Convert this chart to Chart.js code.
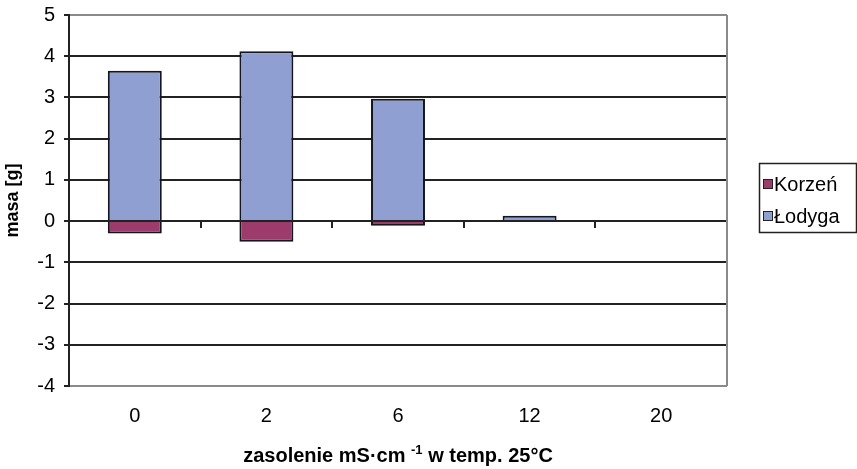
<!DOCTYPE html>
<html>
<head>
<meta charset="utf-8">
<script src="https://cdn.jsdelivr.net/npm/chart.js@4.4.1/dist/chart.umd.min.js"></script>
<style>
  body { margin: 0; background: #fff; }
  canvas { display: block; }
</style>
</head>
<body>
<canvas id="graph1" width="857" height="469"></canvas>
<script>
  // salinity categories (mS/cm at 25°C)
  const categories = ['0', '2', '6', '12', '20']
  const korzen = [-0.30, -0.50, -0.11, 0, 0]
  const lodyga = [3.65, 4.12, 2.97, 0.13, 0]
  const yTicks = { min: -4, max: 5, step: 1 }

  const FONT = "'Liberation Sans', Arial, sans-serif"
  const colKorzen = '#9c3b6c'
  const colLodyga = '#8f9fd1'

  // legend box on the right, drawn by hand to match the excel look
  const legendBox = {
    id: 'legendBox',
    afterDraw(chart) {
      const c = chart.ctx
      c.save()
      c.strokeStyle = '#222'
      c.lineWidth = 1.5
      c.strokeRect(759.5, 163.5, 97, 69)
      c.font = '20px ' + FONT
      c.textBaseline = 'middle'
      const ys = [184, 216]
      chart.data.datasets.forEach((ds, i) => {
        c.fillStyle = ds.backgroundColor
        c.fillRect(763, ys[i] - 5, 10, 10)
        c.strokeStyle = '#222'
        c.lineWidth = 1
        c.strokeRect(763.5, ys[i] - 4.5, 9, 9)
        c.fillStyle = '#000'
        c.fillText(ds.label, 774, ys[i] + 1)
      })
      c.restore()
    }
  }

  // x title with superscript, plus right border of plot
  const extras = {
    id: 'extras',
    afterDraw(chart) {
      const c = chart.ctx
      const a = chart.chartArea
      c.save()
      c.strokeStyle = '#8a8a8a'
      c.lineWidth = 2
      c.beginPath()
      c.moveTo(a.right, a.top)
      c.lineTo(a.right, a.bottom)
      c.stroke()

      const p1 = 'zasolenie mS·cm ', sup = '-1', p2 = ' w temp. 25°C'
      const big = 'bold 20px ' + FONT, small = 'bold 13px ' + FONT
      c.font = big
      const w1 = c.measureText(p1).width, w3 = c.measureText(p2).width
      c.font = small
      const w2 = c.measureText(sup).width
      let x = (a.left + a.right) / 2 - (w1 + w2 + w3) / 2
      const y = 462
      c.fillStyle = '#000'
      c.textBaseline = 'alphabetic'
      c.font = big
      c.fillText(p1, x, y)
      x += w1
      c.font = small
      c.fillText(sup, x, y - 8)
      x += w2
      c.font = big
      c.fillText(p2, x, y)
      c.restore()
    }
  }

  new Chart(document.getElementById('graph1'), {
    type: 'bar',
    data: {
      labels: categories,
      datasets: [
        { label: 'Korzeń', data: korzen, backgroundColor: colKorzen },
        { label: 'Łodyga', data: lodyga, backgroundColor: colLodyga }
      ]
    },
    options: {
      responsive: false,
      animation: false,
      devicePixelRatio: 1,
      layout: { padding: { top: 15, right: 130, left: 0, bottom: 0 } },
      datasets: {
        bar: {
          barPercentage: 0.41,
          categoryPercentage: 1,
          borderColor: '#15151f',
          borderWidth: 2,
          borderSkipped: 'start'
        }
      },
      plugins: { legend: { display: false }, tooltip: { enabled: false } },
      scales: {
        x: {
          stacked: true,
          grid: { display: false, drawTicks: false },
          border: { display: false },
          ticks: { color: '#000', font: { size: 20, family: FONT }, padding: 18 },
          afterFit: s => { s.height = 83; s.paddingLeft = 0; s.paddingRight = 0 }
        },
        // zero line with small ticks between categories, drawn over the bars
        x2: {
          type: 'category',
          position: { y: 0 },
          offset: true,
          z: 1,
          grid: { offset: true, drawOnChartArea: false, drawTicks: true, tickLength: 6, color: '#222', lineWidth: 2 },
          border: { display: true, color: '#222', width: 2 },
          ticks: { display: false }
        },
        y: {
          stacked: true,
          min: yTicks.min,
          max: yTicks.max,
          ticks: { stepSize: yTicks.step, color: '#000', font: { size: 20, family: FONT }, padding: 9 },
          grid: {
            color: ctx => (ctx.tick && (ctx.tick.value === yTicks.max || ctx.tick.value === yTicks.min)) ? '#8a8a8a' : '#222',
            tickColor: '#222',
            lineWidth: 2,
            tickLength: 5
          },
          border: { color: '#222', width: 2 },
          title: {
            display: true,
            text: 'masa [g]',
            color: '#000',
            font: { size: 18, weight: 'bold', family: FONT },
            padding: { top: 2, bottom: 0 }
          },
          afterFit: s => { s.width = 69; s.paddingTop = 0; s.paddingBottom = 0 }
        }
      }
    },
    plugins: [legendBox, extras]
  })
</script>
</body>
</html>
